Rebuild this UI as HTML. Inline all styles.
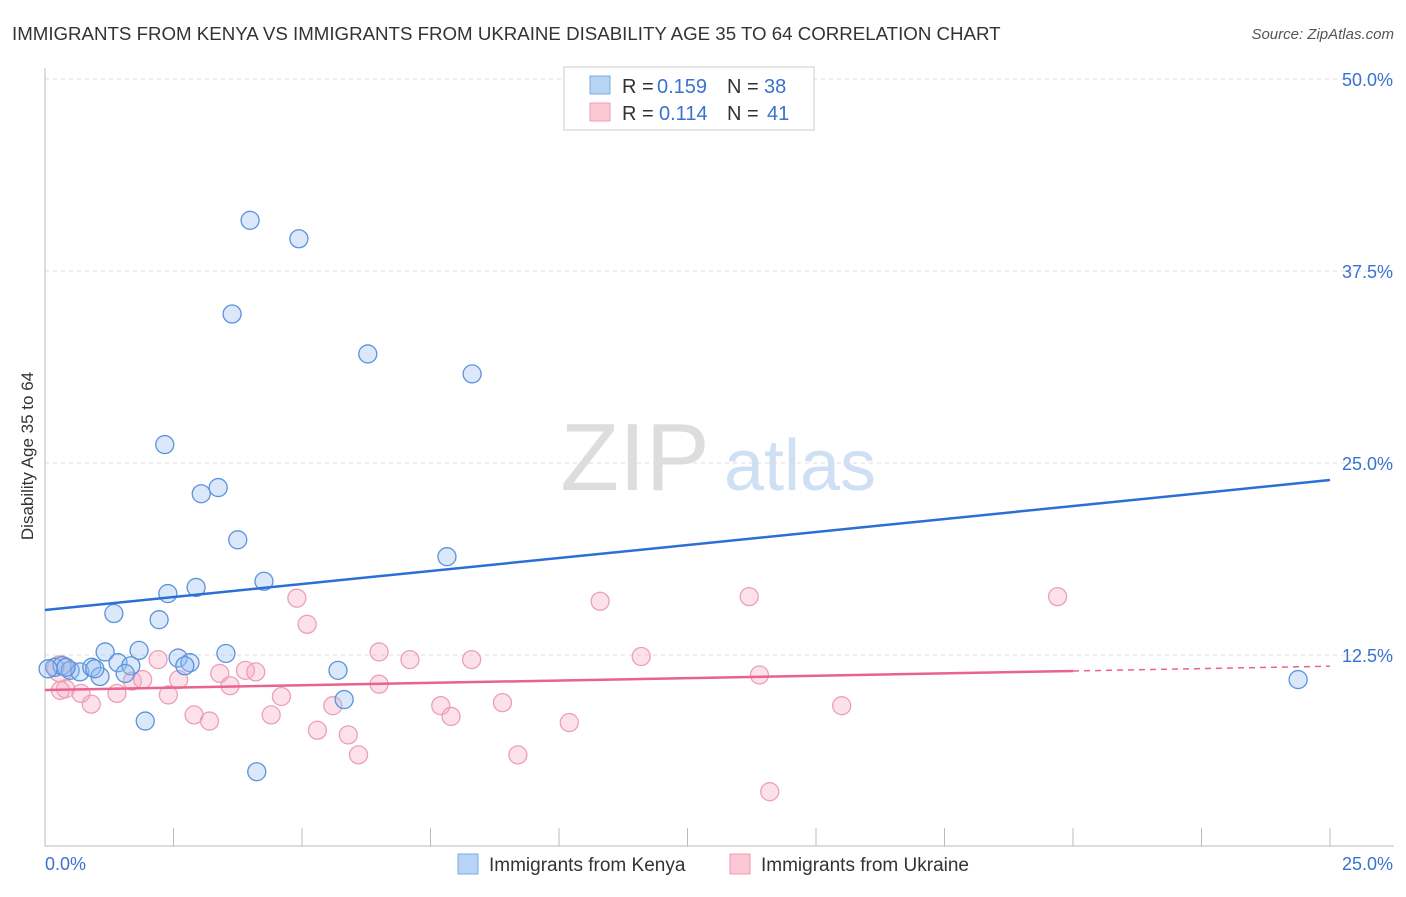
<!DOCTYPE html>
<html><head><meta charset="utf-8"><style>
body{margin:0;background:#fff;font-family:"Liberation Sans",sans-serif}
svg text{font-family:"Liberation Sans",sans-serif}
</style></head><body>
<svg id="chart" width="1406" height="892" xmlns="http://www.w3.org/2000/svg">
<text x="12" y="40" font-size="18.7" fill="#333">IMMIGRANTS FROM KENYA VS IMMIGRANTS FROM UKRAINE DISABILITY AGE 35 TO 64 CORRELATION CHART</text>
<text x="1394" y="39" font-size="15" fill="#555" font-style="italic" text-anchor="end">Source: ZipAtlas.com</text>
<text x="33" y="456" font-size="17" fill="#333" text-anchor="middle" transform="rotate(-90 33 456)">Disability Age 35 to 64</text>
<g><text x="635" y="490" font-size="96" fill="#ddd" font-family="Liberation Serif" text-anchor="middle">ZIP</text><text x="800" y="490" font-size="72" fill="#cfe0f5" text-anchor="middle">atlas</text></g>
<g id="grid"></g><g id="axes"></g><g id="pts"></g><g id="lines"></g>
<g>
<rect x="564" y="67" width="250" height="63" fill="#fff" stroke="#ccc"/>
<rect x="590" y="76" width="20" height="18" fill="#b8d4f5" stroke="#7aa8e0"/>
<text x="622" y="93" font-size="20" fill="#333">R =</text><text x="657" y="93" font-size="20" fill="#3a72d0">0.159</text>
<text x="727" y="93" font-size="20" fill="#333">N =</text><text x="764" y="93" font-size="20" fill="#3a72d0">38</text>
<rect x="590" y="103" width="20" height="18" fill="#fcc8d6" stroke="#eba0b6"/>
<text x="622" y="120" font-size="20" fill="#333">R =</text><text x="659" y="120" font-size="20" fill="#3a72d0">0.114</text>
<text x="727" y="120" font-size="20" fill="#333">N =</text><text x="767" y="120" font-size="20" fill="#3a72d0">41</text>
</g>
<g>
<rect x="458" y="854" width="20" height="20" fill="#b8d4f5" stroke="#7aa8e0"/>
<text x="489" y="871" font-size="19" fill="#333">Immigrants from Kenya</text>
<rect x="730" y="854" width="20" height="20" fill="#fcc8d6" stroke="#eba0b6"/>
<text x="761" y="871" font-size="19" fill="#333">Immigrants from Ukraine</text>
</g>
</svg>
<script>
const yTicks=[12.5,25,37.5,50];
const yTickLabels=["12.5%","25.0%","37.5%","50.0%"];
const xTickLabels=["0.0%","25.0%"];
const kenyaX=[3.99,4.94,3.64,6.28,8.31,2.33,3.04,3.37,3.75,7.82,4.26,2.39,2.94,1.34,2.22,1.17,1.83,2.59,2.82,3.52,1.42,1.67,2.72,5.70,5.82,1.95,4.12,24.38,0.19,0.33,0.49,0.68,0.91,1.07,1.56,0.41,0.97,0.06];
const kenyaY=[40.8,39.6,34.7,32.1,30.8,26.2,23.0,23.4,20.0,18.9,17.3,16.5,16.9,15.2,14.8,12.7,12.8,12.3,12.0,12.6,12.0,11.8,11.8,11.5,9.6,8.2,4.9,10.9,11.7,11.8,11.5,11.4,11.7,11.1,11.3,11.7,11.6,11.6];
const ukraineX=[0.3,0.4,0.7,0.9,1.4,1.7,1.9,2.2,2.4,2.6,2.9,3.2,3.4,3.6,3.9,4.1,4.4,4.6,4.9,5.1,5.3,5.6,5.9,6.1,6.5,6.5,7.1,7.7,7.9,8.3,8.9,9.2,10.2,10.8,11.6,13.7,13.9,14.1,15.5,19.7,0.3];
const ukraineY=[11.6,10.3,10.0,9.3,10.0,10.8,10.9,12.2,9.9,10.9,8.6,8.2,11.3,10.5,11.5,11.4,8.6,9.8,16.2,14.5,7.6,9.2,7.3,6.0,12.7,10.6,12.2,9.2,8.5,12.2,9.4,6.0,8.1,16.0,12.4,16.3,11.2,3.6,9.2,16.3,10.2];
const kenyaTrend=[15.43,23.89];
const ukraineTrend=[10.22,11.77];
const NS="http://www.w3.org/2000/svg";
const X0=45,X1=1330,Y0=847,YSCALE=15.36;
function xs(v){return X0+v/25*(X1-X0);}
function ys(v){return Y0-v*YSCALE;}
function mk(tag,attrs,parent){const e=document.createElementNS(NS,tag);for(const k in attrs)e.setAttribute(k,attrs[k]);document.getElementById(parent).appendChild(e);return e;}
yTicks.forEach((t,i)=>{
 const g=mk('line',{x1:45,x2:1394,y1:ys(t),y2:ys(t),stroke:'#ddd','stroke-dasharray':'4 4'},'grid');
 
 
 const l=mk('text',{x:1393,y:ys(t)+7,'font-size':18,fill:'#3a72d0','text-anchor':'end'},'axes');
 l.textContent=yTickLabels[i];
 
 
});
let a=mk('line',{x1:45,x2:45,y1:68,y2:846,stroke:'#bbb'},'axes');


a=mk('line',{x1:45,x2:1394,y1:846,y2:846,stroke:'#bbb'},'axes');


for(let i=0;i<=10;i++){const t=mk('line',{x1:xs(i*2.5),x2:xs(i*2.5),y1:828,y2:846,stroke:'#bbb'},'axes');
 
 }
let tl=mk('text',{x:45,y:870,'font-size':18,fill:'#3a72d0'},'axes');tl.textContent=xTickLabels[0];


tl=mk('text',{x:1393,y:870,'font-size':18,fill:'#3a72d0','text-anchor':'end'},'axes');tl.textContent=xTickLabels[1];


ukraineX.forEach((x,i)=>{const c=mk('circle',{cx:xs(x),cy:ys(ukraineY[i]),r:i==0?13:9,fill:'rgba(248,170,195,0.35)',stroke:'#eba0b6','stroke-width':1.3},'pts');
 
 });
kenyaX.forEach((x,i)=>{const c=mk('circle',{cx:xs(x),cy:ys(kenyaY[i]),r:9,fill:'rgba(150,190,240,0.35)',stroke:'#5b93dc','stroke-width':1.3},'pts');
 
 });
let ln=mk('line',{x1:xs(0),y1:ys(kenyaTrend[0]),x2:xs(25),y2:ys(kenyaTrend[1]),stroke:'#2a6fd6','stroke-width':2.5},'lines');


const uy20=ukraineTrend[0]+(ukraineTrend[1]-ukraineTrend[0])*20/25;
ln=mk('line',{x1:xs(0),y1:ys(ukraineTrend[0]),x2:xs(20),y2:ys(uy20),stroke:'#e8638e','stroke-width':2.5},'lines');


ln=mk('line',{x1:xs(20),y1:ys(uy20),x2:xs(25),y2:ys(ukraineTrend[1]),stroke:'#e8638e','stroke-width':1.5,'stroke-dasharray':'6 5'},'lines');


</script>
</body></html>
